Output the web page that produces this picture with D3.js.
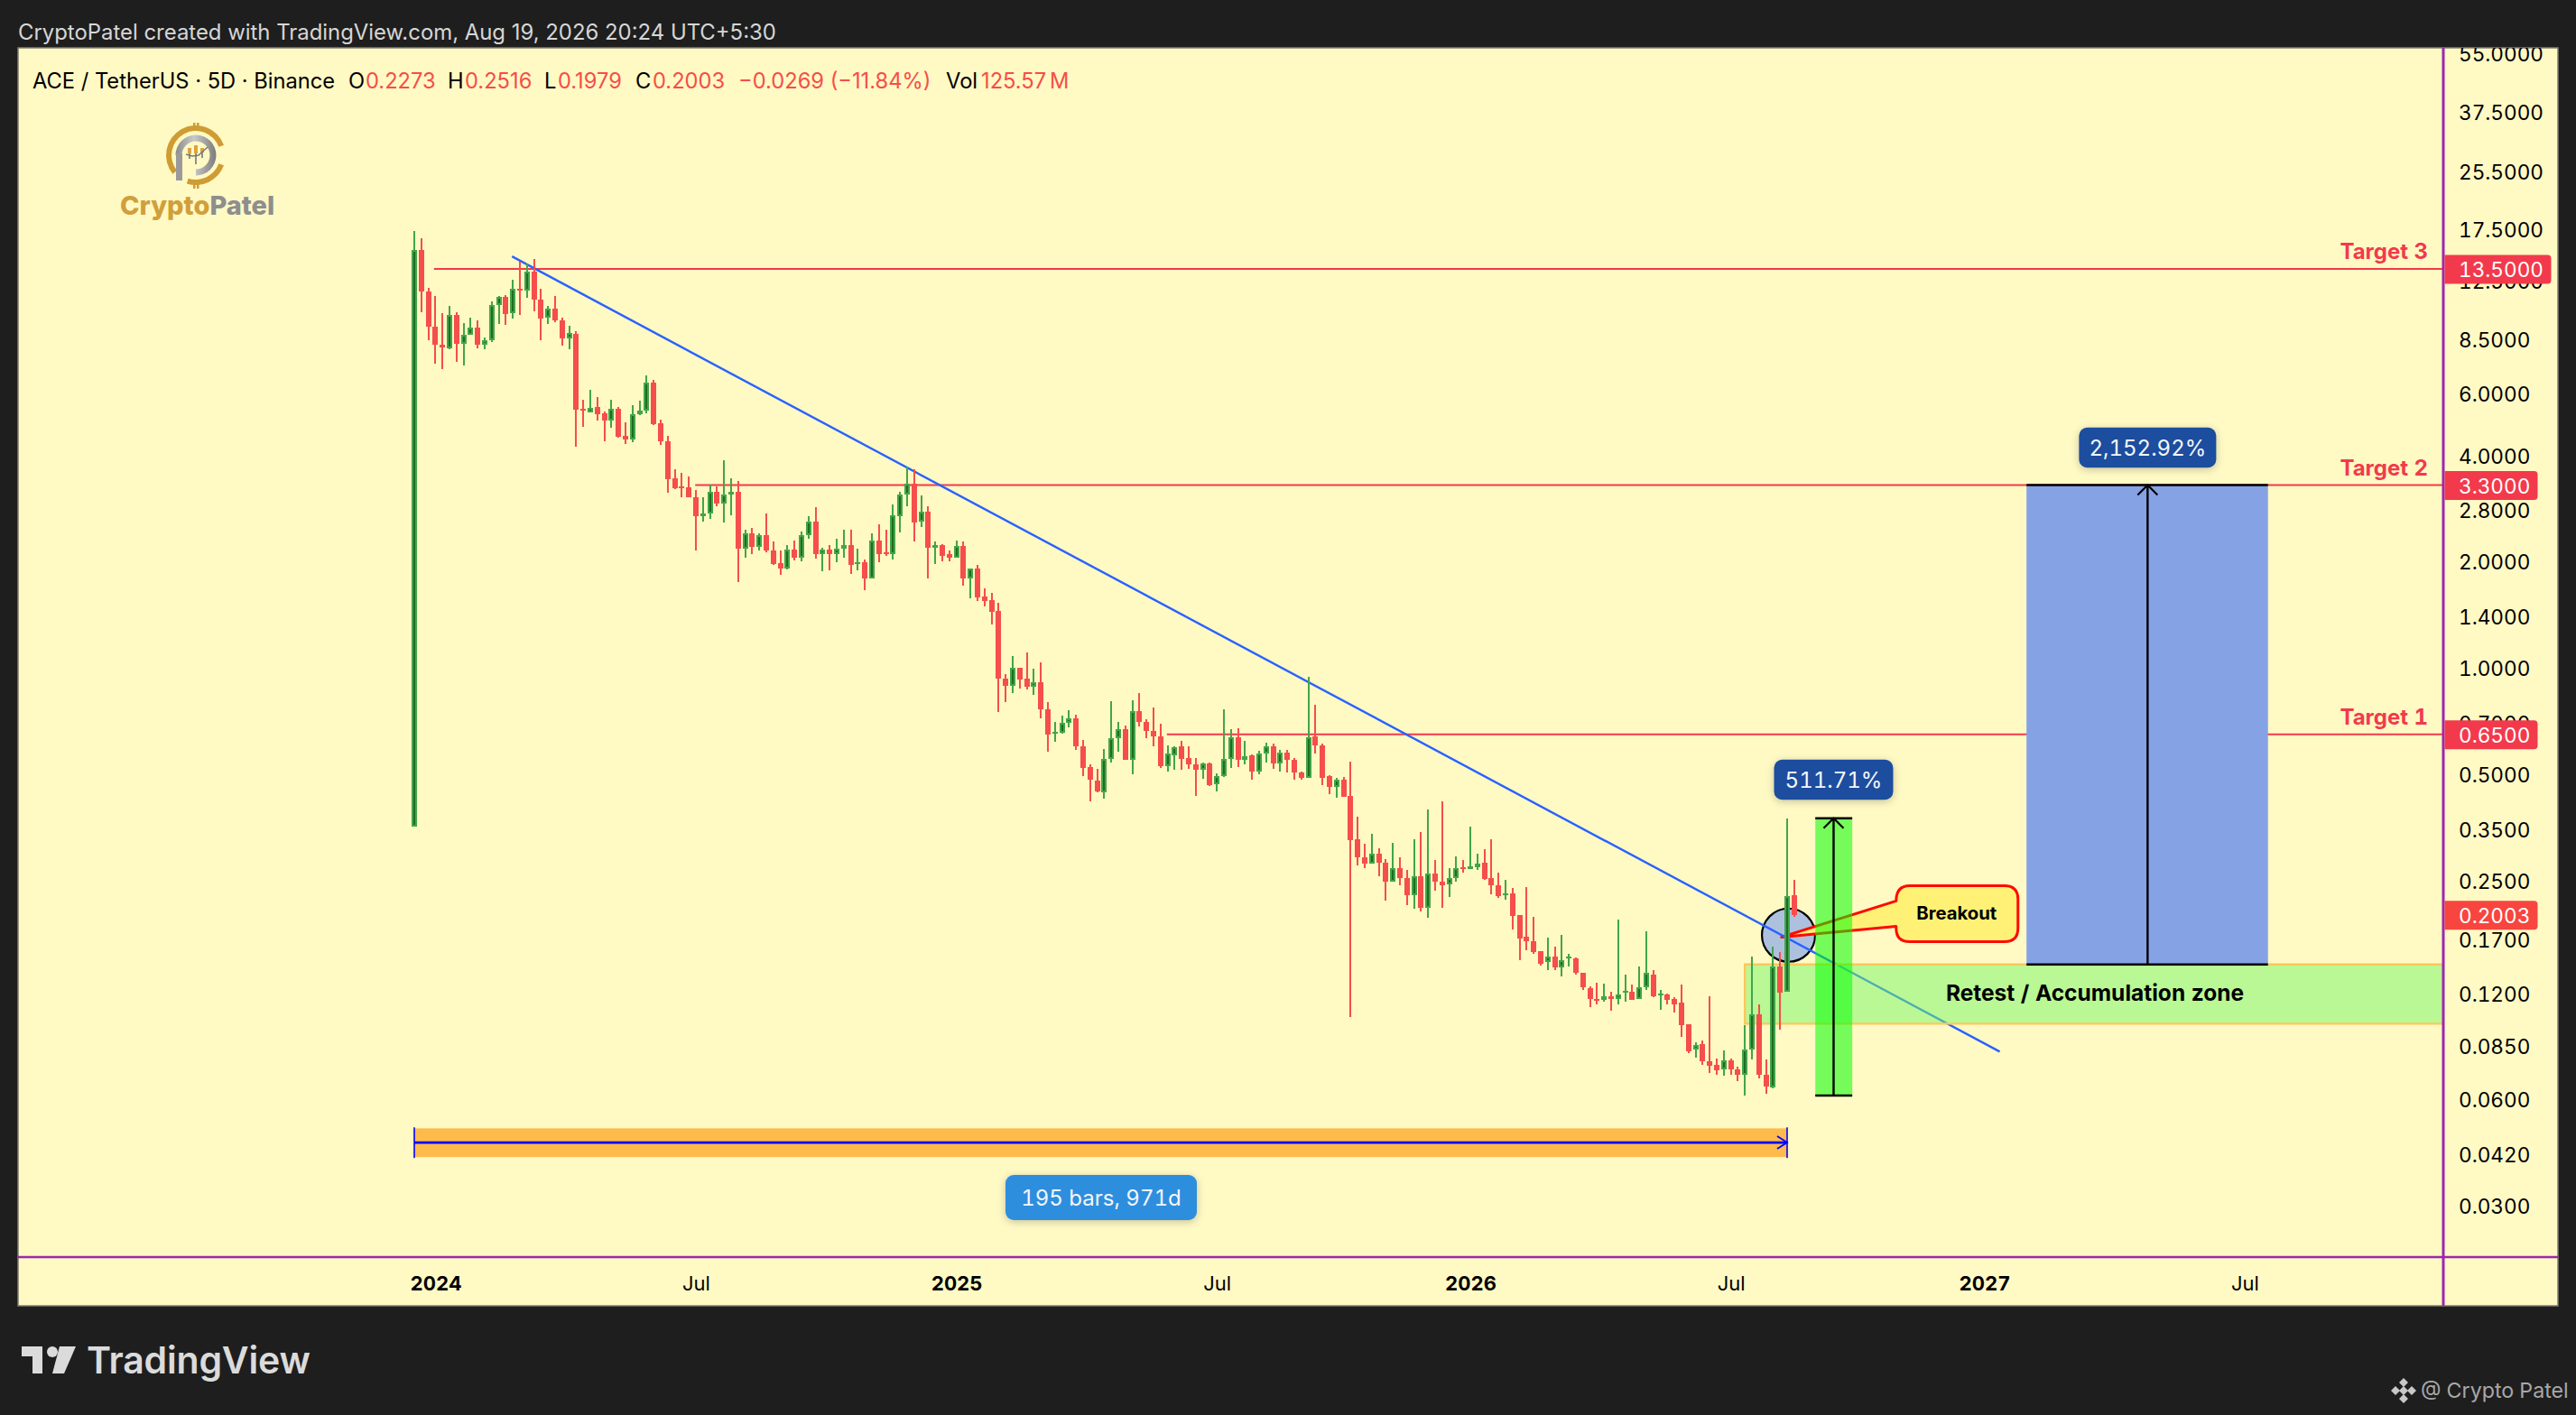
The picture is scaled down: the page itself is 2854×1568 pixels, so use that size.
<!DOCTYPE html>
<html>
<head>
<meta charset="utf-8">
<title>ACE / TetherUS</title>
<script src="https://cdn.jsdelivr.net/npm/d3@7/dist/d3.min.js"></script>
<style>
  html, body { margin: 0; padding: 0; background: #1e1e1e; overflow: hidden; }
  text { font-family: Inter, "Noto Sans", sans-serif; font-variant-numeric: tabular-nums; }
</style>
</head>
<body>
<div id="chart"></div>
<script>
// one entry per 5D bar
var opens = [
  .355,15.3,11.65,9.28,8.25,8.07,10.0,8.3,8.78,9.24,
  8.24,8.48,10.69,11.26,10.14,11.87,11.7,13.3,11.07,9.81,
  10.44,9.66,8.58,8.82,5.43,5.31,5.48,5.28,5.04,5.43,
  4.54,4.45,5.23,5.36,6.44,4.94,4.39,3.44,3.27,3.25,
  3.05,2.69,2.75,3.15,2.93,3.1,3.15,2.18,2.41,2.21,
  2.38,2.16,1.98,1.91,2.17,2.05,2.38,2.6,2.1,2.17,
  2.1,2.18,2.23,1.99,1.99,1.79,2.3,2.13,2.1,2.69,
  3.11,3.33,2.6,2.78,2.19,2.23,2.1,2.06,2.22,1.80,
  1.91,1.592,1.555,1.45,.935,.89,1.0,.935,.885,.91,
  .767,.655,.655,.70,.72,.60,.524,.482,.446,.554,
  .634,.672,.549,.757,.705,.665,.643,.528,.568,.60,
  .556,.534,.517,.538,.469,.495,.552,.637,.55,.566,
  .51,.574,.60,.538,.577,.55,.507,.49,.642,.606,
  .495,.46,.484,.436,.327,.292,.279,.299,.282,.249,
  .271,.254,.228,.257,.21,.262,.249,.245,.254,.273,
  .27,.273,.281,.255,.243,.23,.23,.2,.174,.169,
  .158,.147,.153,.142,.152,.151,.137,.124,.116,.115,
  .118,.116,.121,.121,.116,.125,.136,.119,.119,.116,
  .113,.098,.0833,.086,.077,.0755,.073,.0778,.073,.0705,
  .0835,.1046,.0707,.0652,.143,.121,.2273
];
var highs = [
  17.25,16.5,11.95,11.3,10.15,10.62,10.2,9.5,9.83,9.66,
  8.64,10.95,11.3,11.4,12.55,14.17,13.98,14.37,11.85,10.58,
  11.3,9.82,9.33,9.0,5.77,6.15,5.86,5.34,5.77,5.49,
  4.96,5.54,5.71,6.75,6.56,5.06,4.54,3.65,3.57,3.48,
  3.2,3.05,3.31,3.27,3.88,3.44,3.39,2.46,2.49,2.41,
  2.75,2.29,2.16,2.23,2.3,2.44,2.69,2.85,2.19,2.23,
  2.33,2.46,2.47,2.18,2.03,2.41,2.55,2.47,2.9,3.15,
  3.73,3.66,3.09,2.87,2.29,2.25,2.15,2.3,2.28,1.92,
  1.957,1.68,1.63,1.528,.965,1.08,1.0,1.11,.995,1.04,
  .80,.705,.735,.76,.74,.625,.534,.52,.59,.807,
  .705,.69,.81,.85,.717,.775,.695,.605,.60,.622,
  .60,.556,.54,.54,.505,.767,.672,.676,.622,.57,
  .582,.617,.61,.588,.588,.556,.51,.947,.788,.613,
  .497,.49,.492,.545,.379,.318,.339,.31,.288,.32,
  .292,.268,.328,.344,.399,.286,.421,.271,.293,.287,
  .357,.299,.307,.328,.263,.252,.238,.2,.24,.198,
  .158,.173,.163,.176,.155,.152,.137,.126,.129,.128,
  .121,.194,.136,.127,.143,.18,.14,.123,.12,.117,
  .127,.098,.0875,.0885,.118,.0785,.0826,.0785,.0746,.0974,
  .153,.112,.0779,.163,.157,.376,.2516
];
var lows = [
  .355,10.2,8.48,7.27,7.02,7.99,7.35,7.2,8.78,8.03,
  7.99,8.38,9.43,9.35,9.8,9.98,11.2,10.22,8.48,9.43,
  9.57,8.18,7.99,4.23,4.82,5.29,5.03,4.4,4.79,4.5,
  4.32,4.37,5.2,5.26,4.89,4.28,3.14,3.22,3.05,3.05,
  2.15,2.6,2.64,2.87,2.59,2.71,1.75,2.05,2.11,2.16,
  2.13,1.96,1.84,1.9,2.02,2.01,2.33,2.04,1.88,1.89,
  2.0,2.05,1.85,1.89,1.66,1.79,2.0,2.08,2.03,2.43,
  2.87,2.29,2.51,1.79,1.97,2.01,2.01,2.06,1.71,1.574,
  1.546,1.492,1.327,.75,.80,.85,.875,.87,.84,.72,
  .58,.62,.654,.68,.587,.494,.42,.445,.428,.54,
  .58,.549,.50,.685,.632,.60,.522,.51,.517,.517,
  .52,.436,.486,.464,.447,.492,.522,.525,.534,.483,
  .50,.54,.52,.51,.506,.483,.483,.49,.572,.467,
  .439,.43,.433,.103,.276,.272,.279,.257,.22,.249,
  .243,.214,.209,.205,.197,.234,.21,.225,.249,.264,
  .27,.268,.252,.229,.224,.221,.182,.149,.159,.155,
  .144,.14,.14,.134,.143,.136,.123,.11,.112,.114,
  .107,.112,.114,.115,.116,.123,.117,.108,.112,.106,
  .0905,.0815,.079,.0755,.0713,.0705,.0703,.0705,.0677,.0617,
  .0779,.0688,.0625,.0646,.0948,.121,.1979
];
var closes = [
  15.3,11.65,9.26,8.24,8.09,10.0,8.29,8.8,9.24,8.24,
  8.49,10.69,11.26,10.07,11.87,11.7,13.3,11.05,9.8,10.42,
  9.63,8.57,8.9,5.40,5.39,5.47,5.25,5.03,5.43,4.53,
  4.45,5.23,5.35,6.44,4.92,4.38,3.43,3.24,3.25,3.05,
  2.69,2.75,3.15,2.92,3.1,3.16,2.18,2.41,2.21,2.38,
  2.15,1.97,1.91,2.17,2.05,2.38,2.6,2.1,2.17,2.1,
  2.18,2.23,1.96,2.0,1.79,2.3,2.11,2.11,2.71,3.11,
  3.33,2.59,2.77,2.19,2.23,2.08,2.06,2.22,1.8,1.91,
  1.583,1.546,1.44,.932,.89,1.0,.93,.885,.91,.767,
  .65,.66,.70,.72,.60,.522,.483,.447,.554,.634,
  .672,.549,.757,.705,.665,.64,.528,.572,.598,.555,
  .534,.517,.538,.466,.496,.552,.637,.55,.565,.51,
  .573,.60,.537,.576,.549,.506,.49,.638,.605,.49,
  .46,.484,.433,.326,.291,.279,.298,.282,.249,.271,
  .254,.228,.257,.21,.262,.248,.243,.254,.271,.271,
  .275,.28,.253,.243,.226,.231,.199,.172,.169,.157,
  .146,.153,.142,.149,.153,.137,.125,.116,.115,.118,
  .116,.119,.122,.115,.125,.137,.118,.12,.115,.112,
  .0975,.0823,.0858,.077,.075,.0728,.0775,.073,.0705,.0834,
  .1046,.0707,.0655,.143,.1206,.226,.2003
];

var priceTicks = [55,37.5,25.5,17.5,12.5,8.5,6,4,2.8,2,1.4,1,.7,.5,.35,.25,.17,.12,.085,.06,.042,.03];
var timeTickBars = [3,40,77,114,150,187,223,260];
var timeTickLabels = ["2024","Jul","2025","Jul","2026","Jul","2027","Jul"];

var targetNames = ["Target 3","Target 2","Target 1"];
var targetPrices = [13.5,3.3,.65];
var targetStartBars = [2.8,39.9,106.9];

var trendBars = [13.88,225.2];
var trendPrices = [14.65,.0821];

var zoneBars = [189];
var zonePrices = [.145,.0985];

var moveBars = [199,201.6,204.25];
var movePrices = [.0617,.376];
var targetBoxBars = [229,246.2,263.3];
var targetBoxPrices = [.145,3.3];

var spanBars = [0,195];
var spanPrices = [.0498,.0454,.0413];

var width = 2854, height = 1568;
var panel = {left: 20, top: 53, right: 2834, bottom: 1447};
var axisX = 2707, axisY = 1393;

var green = "#43a548", greenDark = "#1e6b26", red = "#f54e4b", targetRed = "#f23a4c";

var svg = d3.select("#chart")
    .append("svg")
    .attr("width", width)
    .attr("height", height)
    .style("display", "block")

var x = d3.scaleLinear().domain([0, 196]).range([459, 459 + 7.8 * 196]);
var y = d3.scaleLog().domain([55, .03]).range([59.3, 1336.5]);

var defs = svg.append("defs");
defs.append("clipPath").attr("id", "panelClip").append("rect")
    .attr("x", panel.left).attr("y", panel.top)
    .attr("width", panel.right - panel.left).attr("height", panel.bottom - panel.top);
var shadow = defs.append("filter").attr("id", "soft").attr("x", "-20%").attr("y", "-30%").attr("width", "140%").attr("height", "170%");
shadow.append("feDropShadow").attr("dx", 0).attr("dy", 2).attr("stdDeviation", 4)
    .attr("flood-color", "#000").attr("flood-opacity", .22);
var silver = defs.append("linearGradient").attr("id", "silver").attr("x1", 0).attr("x2", 1).attr("y1", 0).attr("y2", 0);
silver.append("stop").attr("offset", "0").attr("stop-color", "#8a8a8a");
silver.append("stop").attr("offset", ".45").attr("stop-color", "#c9c9c9");
silver.append("stop").attr("offset", "1").attr("stop-color", "#7c7c7c");

svg.append("text")
    .attr("x", 20).attr("y", 44)
    .attr("font-size", 23.9).attr("fill", "#d6d6d6")
    .style("font-variant-numeric", "normal")
    .text("CryptoPatel created with TradingView.com, Aug 19, 2026 20:24 UTC+5:30")

svg.append("rect")
    .attr("x", panel.left).attr("y", panel.top)
    .attr("width", panel.right - panel.left).attr("height", panel.bottom - panel.top)
    .attr("fill", "#fff9c4").attr("stroke", "#7e7e72").attr("stroke-width", 1.5)

var plot = svg.append("g").attr("clip-path", "url(#panelClip)");

// breakout circle sits under everything else
plot.append("circle")
    .attr("cx", x(195.2)).attr("cy", y(.1755)).attr("r", 29.5)
    .attr("fill", "#adc1df").attr("stroke", "#000").attr("stroke-width", 2.2)

// callout, box hangs off the tip
var tipX = x(194.2), tipY = y(.1733);
var boxL = tipX + 127, boxR = tipX + 262, boxT = tipY - 57, boxB = tipY + 5, rr = 15;
var callout = "M" + (boxL + rr) + "," + boxT + " L" + (boxR - rr) + "," + boxT
    + " Q" + boxR + "," + boxT + " " + boxR + "," + (boxT + rr)
    + " L" + boxR + "," + (boxB - rr)
    + " Q" + boxR + "," + boxB + " " + (boxR - rr) + "," + boxB
    + " L" + (boxL + rr) + "," + boxB
    + " Q" + boxL + "," + boxB + " " + boxL + "," + (boxB - rr)
    + " L" + boxL + "," + (tipY - 12)
    + " L" + tipX + "," + tipY
    + " L" + boxL + "," + (tipY - 40)
    + " Q" + boxL + "," + boxT + " " + (boxL + rr) + "," + boxT + " Z";
plot.append("path").attr("d", callout)
    .attr("fill", "#fff176").attr("stroke", "#ff0a00").attr("stroke-width", 3).attr("stroke-linejoin", "round")

// target lines
targetPrices.forEach(function(p, i) {
  plot.append("line")
      .attr("x1", x(targetStartBars[i])).attr("x2", axisX)
      .attr("y1", y(p)).attr("y2", y(p))
      .attr("stroke", targetRed).attr("stroke-width", 2)
})

plot.append("line")
    .attr("x1", x(trendBars[0])).attr("y1", y(trendPrices[0]))
    .attr("x2", x(trendBars[1])).attr("y2", y(trendPrices[1]))
    .attr("stroke", "#2962ff").attr("stroke-width", 2.4)

// retest zone
plot.append("rect")
    .attr("x", x(zoneBars[0])).attr("y", y(zonePrices[0]))
    .attr("width", axisX - x(zoneBars[0]))
    .attr("height", y(zonePrices[1]) - y(zonePrices[0]))
    .attr("fill", "rgb(115,247,100)").attr("fill-opacity", .5)
plot.append("path")
    .attr("d", "M" + axisX + "," + y(zonePrices[0]) + " H" + x(zoneBars[0]) + " V" + y(zonePrices[1]) + " H" + axisX)
    .attr("fill", "none").attr("stroke", "#ffc65c").attr("stroke-width", 2.4)

// price range boxes
function rangeBox(bars, prices, fill) {
  var top = y(prices[1]), bot = y(prices[0]);
  var g = plot.append("g");
  g.append("rect")
      .attr("x", x(bars[0])).attr("y", top)
      .attr("width", x(bars[2]) - x(bars[0])).attr("height", bot - top)
      .attr("fill", fill)
  g.selectAll(".cap").data([top, bot]).enter().append("line")
      .attr("x1", x(bars[0])).attr("x2", x(bars[2]))
      .attr("y1", d => d).attr("y2", d => d)
      .attr("stroke", "#000").attr("stroke-width", 2.4)
  g.append("line")
      .attr("x1", x(bars[1])).attr("x2", x(bars[1]))
      .attr("y1", bot).attr("y2", top)
      .attr("stroke", "#000").attr("stroke-width", 2.4)
  g.append("path")
      .attr("d", "M" + (x(bars[1]) - 11) + "," + (top + 11) + " L" + x(bars[1]) + "," + top + " L" + (x(bars[1]) + 11) + "," + (top + 11))
      .attr("fill", "none").attr("stroke", "#000").attr("stroke-width", 2.2)
}
rangeBox(moveBars, movePrices, "rgba(0,255,0,.54)");
rangeBox(targetBoxBars, targetBoxPrices, "#85a2e5");

// bar span ruler
var spanL = x(spanBars[0]), spanR = x(spanBars[1]);
plot.append("rect")
    .attr("x", spanL).attr("y", y(spanPrices[0]))
    .attr("width", spanR - spanL).attr("height", y(spanPrices[2]) - y(spanPrices[0]))
    .attr("fill", "#ffba4c")
plot.append("line")
    .attr("x1", spanL).attr("x2", spanR)
    .attr("y1", y(spanPrices[1])).attr("y2", y(spanPrices[1]))
    .attr("stroke", "#0000ff").attr("stroke-width", 2.6)
plot.selectAll(".spanEnd").data([spanL, spanR]).enter().append("line")
    .attr("x1", d => d).attr("x2", d => d)
    .attr("y1", y(spanPrices[0]) - 1).attr("y2", y(spanPrices[2]) + 1)
    .attr("stroke", "#0000ff").attr("stroke-width", 1.6)
plot.append("path")
    .attr("d", "M" + (spanR - 11) + "," + (y(spanPrices[1]) - 7) + " L" + spanR + "," + y(spanPrices[1]) + " L" + (spanR - 11) + "," + (y(spanPrices[1]) + 7))
    .attr("fill", "none").attr("stroke", "#0000ff").attr("stroke-width", 1.8)

// candles
var candles = plot.append("g").attr("shape-rendering", "crispEdges")
    .selectAll("g")
    .data(d3.range(opens.length))
    .enter().append("g")
    .attr("transform", i => "translate(" + Math.round(x(i)) + ",0)")

candles.append("rect")
    .attr("x", -1).attr("width", 2)
    .attr("y", i => y(highs[i]))
    .attr("height", i => y(lows[i]) - y(highs[i]))
    .attr("fill", i => closes[i] >= opens[i] ? green : red)
candles.append("rect")
    .attr("x", -3).attr("width", 6)
    .attr("y", i => y(Math.max(opens[i], closes[i])))
    .attr("height", i => Math.max(2, Math.abs(y(opens[i]) - y(closes[i]))))
    .attr("fill", i => closes[i] >= opens[i] ? green : red)
// dark core of the green bodies
candles.filter(i => closes[i] >= opens[i] && y(opens[i]) - y(closes[i]) > 4).append("rect")
    .attr("x", -1).attr("width", 2)
    .attr("y", i => y(closes[i]) + 2)
    .attr("height", i => y(opens[i]) - y(closes[i]) - 4)
    .attr("fill", greenDark)

// annotation text inside the plot
plot.append("text")
    .attr("x", tipX + 194).attr("y", tipY - 27 + 8)
    .attr("text-anchor", "middle").attr("font-size", 20.3).attr("font-weight", 700).attr("fill", "#000")
    .text("Breakout")

plot.append("text")
    .attr("x", 2321).attr("y", y(.1205) + 8.5)
    .attr("text-anchor", "middle").attr("font-size", 24.5).attr("font-weight", 700).attr("fill", "#000")
    .text("Retest / Accumulation zone")

targetNames.forEach(function(name, i) {
  plot.append("text")
      .attr("x", 2690).attr("y", y(targetPrices[i]) - 11)
      .attr("text-anchor", "end").attr("font-size", 24).attr("font-weight", 700).attr("fill", targetRed)
      .text(name)
})

function badge(cx, cy, w, h, fill, label) {
  var g = plot.append("g");
  g.append("rect")
      .attr("x", cx - w / 2).attr("y", cy - h / 2)
      .attr("width", w).attr("height", h).attr("rx", 9)
      .attr("fill", fill).attr("filter", "url(#soft)")
  g.append("text")
      .attr("x", cx).attr("y", cy + 8.5)
      .attr("text-anchor", "middle").attr("font-size", 24).attr("fill", "#f4f6fb")
      .text(label)
}
badge(x(201.6), 864, 132, 44.5, "#1f4e9e", "511.71%");
badge(x(246.2), 496, 152, 44.5, "#1f4e9e", "2,152.92%");
badge(1220, 1327, 212, 50, "#2f8ede", "195 bars, 971d");

// separators
plot.append("line").attr("x1", panel.left).attr("x2", panel.right).attr("y1", axisY).attr("y2", axisY)
    .attr("stroke", "#9c27b0").attr("stroke-width", 2.4)
plot.append("line").attr("x1", axisX).attr("x2", axisX).attr("y1", panel.top).attr("y2", panel.bottom)
    .attr("stroke", "#9c27b0").attr("stroke-width", 3)

// axes
var priceAxis = d3.axisRight(y).tickValues(priceTicks).tickSize(0).tickPadding(17).tickFormat(d3.format(".4f"));
var yAxisG = plot.append("g").attr("transform", "translate(" + axisX + ",1)").call(priceAxis);
yAxisG.select(".domain").remove();
yAxisG.selectAll("text").attr("font-size", 22.6).attr("fill", "#000").style("font-family", "Inter");

var timeAxis = d3.axisBottom(x).tickValues(timeTickBars).tickSize(0).tickPadding(0).tickFormat((d, i) => timeTickLabels[i]);
var xAxisG = plot.append("g").attr("transform", "translate(0,1421.7)").call(timeAxis);
xAxisG.select(".domain").remove();
xAxisG.selectAll("text")
    .attr("dy", ".36em").attr("y", 0)
    .attr("font-size", 22).attr("fill", "#000").style("font-family", "Inter")
    .attr("font-weight", (d, i) => i % 2 === 0 ? 700 : 400);

// price flags on the axis
function flag(p, label, color) {
  var w = label.length > 6 ? 118 : 103;
  var g = plot.append("g").attr("transform", "translate(" + (axisX + 1.5) + "," + (y(p) + .5) + ")");
  g.append("path")
      .attr("d", "M0,-16 H" + (w - 4) + " Q" + w + ",-16 " + w + ",-12 V12 Q" + w + ",16 " + (w - 4) + ",16 H0 Z")
      .attr("fill", color)
  g.append("text").attr("x", 15.5).attr("y", 8.5)
      .attr("font-size", 22.6).attr("fill", "#fff")
      .text(label)
}
flag(13.5, "13.5000", targetRed);
flag(3.3, "3.3000", targetRed);
flag(.65, "0.6500", targetRed);
flag(.2003, "0.2003", "#f7453f");

// header line
var headerTexts = ["ACE / TetherUS · 5D · Binance","O","0.2273","H","0.2516","L","0.1979","C","0.2003","−0.0269 (−11.84%)","Vol","125.57","M"];
var headerX = [36,386,405,496,515,603,618,704,723,818,1048,1087,1163];
var headerColors = ["#000","#000",red,"#000",red,"#000",red,"#000",red,red,"#000",red,red];
svg.selectAll(".hdr").data(headerTexts).enter().append("text")
    .attr("x", (d, i) => headerX[i]).attr("y", 98)
    .attr("font-size", 23.7).attr("fill", (d, i) => headerColors[i])
    .style("font-variant-numeric", "normal")
    .text(d => d)

// CryptoPatel mark
var logo = svg.append("g").attr("transform", "translate(217,172)");
var deg = Math.PI / 180;
var gold = "#cf9b33";
[[231,430],[110,198]].forEach(function(a) {
  logo.append("path")
      .attr("d", d3.arc()({innerRadius: 27, outerRadius: 33, startAngle: a[0] * deg, endAngle: a[1] * deg}))
      .attr("fill", gold)
})
logo.selectAll(".tick").data([-36,31]).enter().append("g").each(function(t) {
  d3.select(this).append("rect").attr("x", -3).attr("y", t).attr("width", 2.5).attr("height", 6).attr("fill", gold)
  d3.select(this).append("rect").attr("x", 1).attr("y", t).attr("width", 2.5).attr("height", 6).attr("fill", gold)
})
logo.append("path")
    .attr("d", d3.arc()({innerRadius: 15.5, outerRadius: 22.5, startAngle: 270 * deg, endAngle: 540 * deg}))
    .attr("fill", "url(#silver)")
logo.append("rect").attr("x", -22).attr("y", -2).attr("width", 7).attr("height", 30).attr("fill", "#9a9a9a")
logo.selectAll(".c").data([[-7,-8,6],[0,-11,9],[7,-8,5]]).enter().append("rect")
    .attr("x", d => d[0] - 2).attr("y", d => d[1]).attr("width", 4).attr("height", d => d[2]).attr("fill", "#d9a441")
logo.selectAll(".w").data([[-7,-2,6],[0,-2,12],[7,-3,6]]).enter().append("rect")
    .attr("x", d => d[0] - 1).attr("y", d => d[1]).attr("width", 2).attr("height", d => d[2]).attr("fill", "#8f8f8f")
logo.append("path").attr("d", "M-11,-1 L-4,1 L3,0 L13,-9").attr("fill", "none").attr("stroke", "#777").attr("stroke-width", 1.4)
var logoText = svg.append("text").attr("x", 133).attr("y", 238).attr("font-size", 29).attr("font-weight", 800)
logoText.append("tspan").attr("fill", "#d19f3a").text("Crypto")
logoText.append("tspan").attr("fill", "#8e8e8e").text("Patel")

// TradingView mark at the bottom
var tv = svg.append("g").attr("fill", "#dbdbdb");
tv.append("path").attr("d", "M24,1492 H47 V1522 H36 V1503 H24 Z")
tv.append("circle").attr("cx", 58).attr("cy", 1498).attr("r", 6)
tv.append("path").attr("d", "M66,1492 H84 L71,1522 H58 Z")
tv.append("text").attr("x", 96).attr("y", 1521.5)
    .attr("font-size", 41).attr("font-weight", 600).attr("letter-spacing", -.2)
    .text("TradingView")

// bottom right credit
var cx0 = 2663, cy0 = 1541;
svg.selectAll(".bn").data([[0,-9],[9,0],[0,9],[-9,0],[0,0]]).enter().append("path")
    .attr("d", d => "M" + (cx0 + d[0]) + "," + (cy0 + d[1] - 5) + " l5,5 l-5,5 l-5,-5 Z")
    .attr("fill", "#c8c8c8")
svg.append("text").attr("x", 2682).attr("y", 1549)
    .attr("font-size", 23.2).attr("fill", "#a8a8a8")
    .text("@ Crypto Patel")
</script>
</body>
</html>
